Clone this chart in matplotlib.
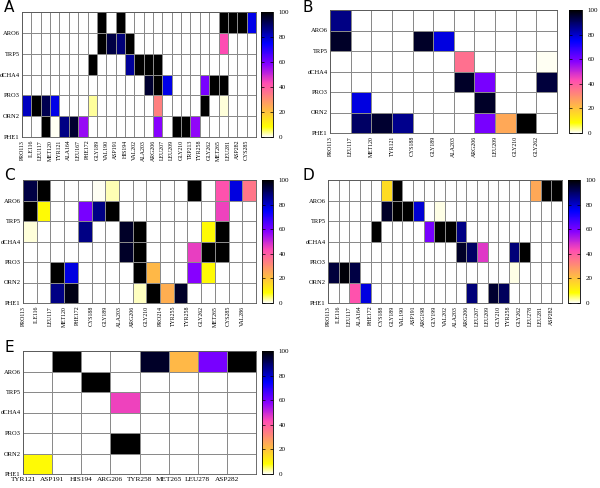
import numpy as np
import matplotlib
matplotlib.use("Agg")
import matplotlib.pyplot as plt

# ligand fragments, bottom to top
ligands = ["PHE1", "ORN2", "PRO3", "dCHA4", "TRP5", "ARO6"]

res_a = ["PRO113", "ILE116", "LEU117", "MET120", "TYR121", "ALA164", "LEU167", "PHE172",
         "GLY189", "VAL190", "ASP191", "HIS194", "VAL202", "ALA203", "ARG206", "LEU207",
         "LEU209", "GLY210", "TRP213", "TYR258", "GLY262", "MET265", "LEU281", "ASP282", "CYS285"]
vals_a = {
    "ARO6": {"GLY189": 100, "ASP191": 100, "MET265": 100, "LEU281": 100, "ASP282": 100, "CYS285": 77},
    "TRP5": {"GLY189": 100, "VAL190": 93, "ASP191": 88, "HIS194": 100, "MET265": 43},
    "dCHA4": {"PHE172": 100, "HIS194": 85, "VAL202": 100, "ALA203": 100, "ARG206": 100},
    "PRO3": {"ALA203": 95, "ARG206": 100, "LEU207": 77, "TYR258": 60, "GLY262": 100, "MET265": 100},
    "ORN2": {"PRO113": 81, "ILE116": 100, "LEU117": 92, "MET120": 77, "PHE172": 3.5,
             "ARG206": 33, "TYR258": 100, "MET265": 1.5},
    "PHE1": {"LEU117": 100, "MET120": 0.5, "TYR121": 87, "ALA164": 95, "LEU167": 56,
             "ARG206": 58, "LEU209": 100, "GLY210": 100, "TRP213": 57},
}

res_b = ["PRO113", "LEU117", "MET120", "TYR121", "CYS188", "GLY189", "ALA203", "ARG206",
         "LEU209", "GLY210", "GLY262"]
vals_b = {
    "ARO6": {"PRO113": 87},
    "TRP5": {"PRO113": 96, "CYS188": 96, "GLY189": 78},
    "dCHA4": {"ALA203": 36, "GLY262": 0.5},
    "PRO3": {"ALA203": 96, "ARG206": 60, "GLY262": 94},
    "ORN2": {"LEU117": 78, "ARG206": 96},
    "PHE1": {"LEU117": 90, "MET120": 95, "TYR121": 86, "ARG206": 60, "LEU209": 25, "GLY210": 100},
}

res_c = ["PRO113", "ILE116", "LEU117", "MET120", "PHE172", "CYS188", "GLY189", "ALA203",
         "ARG206", "GLY210", "PRO214", "TYR255", "TYR258", "GLY262", "MET265", "CYS285", "VAL286"]
vals_c = {
    "ARO6": {"PRO113": 93, "ILE116": 100, "CYS188": 0.7, "GLY189": 2.5, "TYR258": 100,
             "MET265": 42, "CYS285": 78, "VAL286": 35},
    "TRP5": {"PRO113": 100, "ILE116": 9, "PHE172": 60, "CYS188": 87, "GLY189": 100, "MET265": 45},
    "dCHA4": {"PRO113": 1.5, "PHE172": 87, "ALA203": 96, "ARG206": 100, "GLY262": 9, "MET265": 100},
    "PRO3": {"ALA203": 96, "ARG206": 100, "TYR258": 46, "GLY262": 100, "MET265": 100},
    "ORN2": {"LEU117": 100, "MET120": 78, "ARG206": 100, "GLY210": 22, "TYR258": 58, "GLY262": 9},
    "PHE1": {"LEU117": 87, "MET120": 98, "ARG206": 2, "GLY210": 100, "PRO214": 24, "TYR255": 96},
}

res_d = ["PRO113", "ILE116", "LEU117", "ALA164", "PHE172", "CYS188", "GLY189", "VAL190",
         "ASP191", "ARG198", "GLY199", "VAL202", "ALA203", "ARG206", "LEU207", "LEU209",
         "GLY210", "TYR258", "GLY262", "LEU278", "LEU281", "ASP282"]
vals_d = {
    "ARO6": {"CYS188": 15, "GLY189": 100, "LEU278": 25, "LEU281": 100, "ASP282": 100},
    "TRP5": {"CYS188": 96, "GLY189": 100, "VAL190": 100, "ASP191": 79, "GLY199": 1},
    "dCHA4": {"PHE172": 100, "ARG198": 60, "GLY199": 100, "VAL202": 100, "ALA203": 87},
    "PRO3": {"ALA203": 96, "ARG206": 90, "LEU207": 47, "TYR258": 88, "GLY262": 100},
    "ORN2": {"PRO113": 94, "ILE116": 99, "LEU117": 93, "TYR258": 1},
    "PHE1": {"LEU117": 42, "ALA164": 78, "ARG206": 88, "LEU207": 0.3, "LEU209": 95, "GLY210": 91},
}

res_e = ["TYR121", "ASP191", "HIS194", "ARG206", "TYR258", "MET265", "LEU278", "ASP282"]
vals_e = {
    "ARO6": {"ASP191": 100, "TYR258": 96, "MET265": 22, "LEU278": 60, "ASP282": 100},
    "TRP5": {"HIS194": 100},
    "dCHA4": {"ARG206": 45},
    "PRO3": {"ARG206": 0.3},
    "ORN2": {"ARG206": 100},
    "PHE1": {"TYR121": 9},
}

W, H = 600, 488
fig = plt.figure(figsize=(W / 100, H / 100), dpi=100)

cmap = plt.get_cmap("gnuplot2_r").copy()
cmap.set_bad("white")
serif = "Liberation Serif"


def px_axes(x0, y0, x1, y1):
    # pixel box (top-left origin) -> figure axes
    return fig.add_axes([x0 / W, 1 - y1 / H, (x1 - x0) / W, (y1 - y0) / H])


def panel(letter, residues, vals, box, cbox, rotate=True, lpos=None):
    ax = px_axes(*box)
    grid = np.full((len(ligands), len(residues)), np.nan)
    for i, lig in enumerate(ligands):
        for res, v in vals.get(lig, {}).items():
            grid[i, residues.index(res)] = v
    mesh = ax.pcolormesh(np.arange(len(residues) + 1), np.arange(len(ligands) + 1),
                         np.ma.masked_invalid(grid), cmap=cmap, vmin=0, vmax=100,
                         edgecolors="#8a8a8a", linewidth=0.6)
    ax.set_xlim(0, len(residues))
    ax.set_ylim(0, len(ligands))
    ax.set_yticks(np.arange(len(ligands)))
    ax.set_yticklabels(ligands, fontsize=4.7, family=serif)
    ax.set_xticks(np.arange(len(residues)))
    if rotate:
        ax.set_xticklabels(residues, fontsize=4.2, family=serif, rotation=90)
    else:
        ax.set_xticklabels(residues, fontsize=5.2, family=serif)
    ax.tick_params(axis="y", length=0, pad=1.5)
    ax.tick_params(axis="x", length=0, pad=2)
    for s in ax.spines.values():
        s.set_color("#555555")
        s.set_linewidth(0.6)

    cax = px_axes(*cbox)
    cb = fig.colorbar(mesh, cax=cax, ticks=[0, 20, 40, 60, 80, 100])
    cb.outline.set_linewidth(0.6)
    cax.tick_params(labelsize=5, length=2, width=0.5, direction="in", left=True, right=True, pad=4)
    for t in cax.get_yticklabels():
        t.set_family(serif)

    fig.text(lpos[0] / W, 1 - lpos[1] / H, letter, fontsize=11, family="DejaVu Sans",
             va="top", ha="left")


panel("A", res_a, vals_a, (22, 12, 256, 137), (261, 12, 273, 137), lpos=(4, 0))
panel("B", res_b, vals_b, (330, 10, 557, 133), (569, 10, 582, 133), lpos=(303, 0))
panel("C", res_c, vals_c, (23, 180, 256, 303), (262, 180, 273, 303), lpos=(4, 168))
panel("D", res_d, vals_d, (328, 180, 562, 303), (568, 180, 580, 303), lpos=(303, 168))
panel("E", res_e, vals_e, (23, 351, 256, 474), (262, 351, 273, 474), rotate=False, lpos=(4, 340))

fig.savefig("out.png", dpi=100)
